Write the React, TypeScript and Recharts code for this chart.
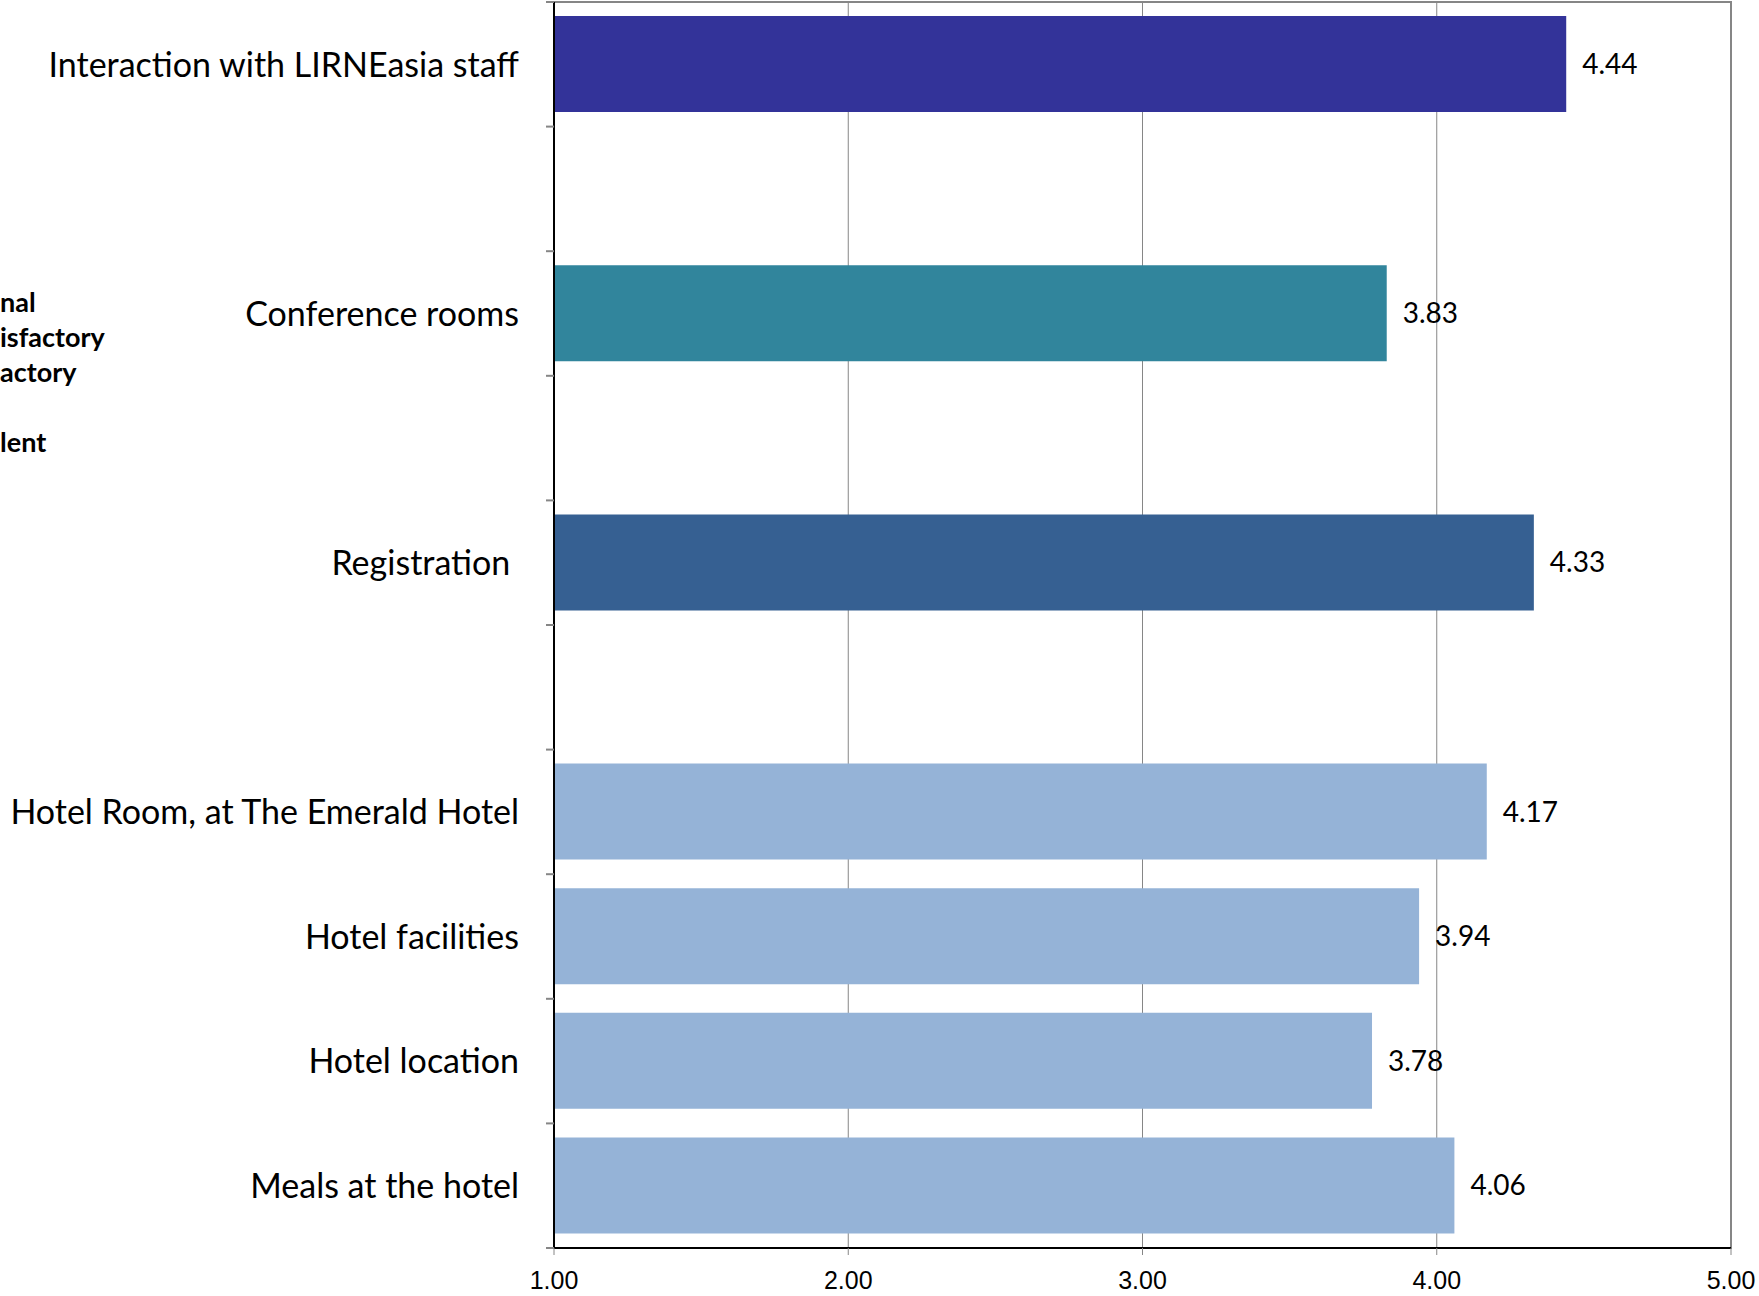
import React from "react";
import {
  BarChart,
  Bar,
  XAxis,
  YAxis,
  CartesianGrid,
  Cell,
  LabelList,
  ReferenceArea,
} from "recharts";

const categories = [
  "Interaction with LIRNEasia staff",
  "",
  "Conference rooms",
  "",
  "Registration ",
  "",
  "Hotel Room, at The Emerald Hotel",
  "Hotel facilities",
  "Hotel location",
  "Meals at the hotel",
];
const scores: (number | null)[] = [4.44, null, 3.83, null, 4.33, null, 4.17, 3.94, 3.78, 4.06];
const barColors = ["#333399", "#ffffff", "#31859C", "#ffffff", "#366092", "#ffffff", "#95B3D7", "#95B3D7", "#95B3D7", "#95B3D7"];
const xTicks = [1, 2, 3, 4, 5];
const legendFragments = ["nal", "isfactory", "actory", "", "lent"];

const rows = categories.map((name, i) => ({ idx: i, name, score: scores[i] }));

const CHART_W = 1759;
const CHART_H = 1296;
const MARGIN = { top: 2, right: 28, bottom: 0, left: 0 };
const X_AXIS_H = 48;
const Y_AXIS_W = 554;
const TICK_SIZE = 8;
const TICK_MARGIN = 27;
const BAND = (CHART_H - MARGIN.top - MARGIN.bottom - X_AXIS_H) / categories.length;

const CatTick = (props: any) => {
  const { x, y, payload, index } = props;
  const label = categories[payload.value] ?? "";
  const axisX = x + TICK_SIZE + TICK_MARGIN;
  const isLast = index === categories.length - 1;
  return (
    <g>
      <line x1={axisX - TICK_SIZE} x2={axisX} y1={y - BAND / 2} y2={y - BAND / 2} stroke="#868686" strokeWidth={2} />
      {isLast && (
        <line x1={axisX - TICK_SIZE} x2={axisX} y1={y + BAND / 2} y2={y + BAND / 2} stroke="#868686" strokeWidth={2} />
      )}
      <text
        x={x}
        y={y}
        dy="0.36em"
        textAnchor="end"
        fontFamily="Lato"
        fontSize={34}
        fill="#000"
        style={{ whiteSpace: "pre" }}
      >
        {label}
      </text>
    </g>
  );
};

export default function App() {
  return (
    <div style={{ position: "absolute", left: 0, top: 0, width: CHART_W, height: CHART_H, background: "#fff" }}>
      <div style={{ position: "absolute", left: 0, top: 0 }}>
        {legendFragments.map((t, i) => (
          <div
            key={i}
            style={{
              position: "absolute",
              left: 0,
              top: 286 + i * 35,
              fontFamily: "Lato",
              fontWeight: 700,
              fontSize: 27,
              lineHeight: "32px",
              whiteSpace: "pre",
              color: "#000",
            }}
          >
            {t}
          </div>
        ))}
      </div>
      <BarChart
        width={CHART_W}
        height={CHART_H}
        data={rows}
        layout="vertical"
        margin={MARGIN}
        barSize={96}
      >
        <CartesianGrid horizontal={false} vertical stroke="#868686" strokeWidth={1} />
        <ReferenceArea x1={1} x2={5} fill="none" stroke="#868686" strokeWidth={2} ifOverflow="visible" />
        <XAxis
          type="number"
          domain={[1, 5]}
          ticks={xTicks}
          allowDataOverflow
          height={X_AXIS_H}
          tickFormatter={(v: number) => v.toFixed(2)}
          axisLine={{ stroke: "#000", strokeWidth: 2 }}
          tickLine={{ stroke: "#868686", strokeWidth: 1 }}
          tickSize={7}
          tickMargin={16}
          tick={{ fontFamily: "Liberation Sans", fontSize: 25, fill: "#000" }}
          interval={0}
        />
        <YAxis
          type="category"
          dataKey="idx"
          width={Y_AXIS_W}
          tickLine={false}
          tickSize={TICK_SIZE}
          tickMargin={TICK_MARGIN}
          axisLine={{ stroke: "#000", strokeWidth: 2 }}
          tick={<CatTick />}
          interval={0}
        />
        <Bar dataKey="score" isAnimationActive={false}>
          {rows.map((r, i) => (
            <Cell key={i} fill={barColors[i]} />
          ))}
          <LabelList
            dataKey="score"
            position="right"
            offset={16}
            formatter={(v: any) => (v == null ? "" : Number(v).toFixed(2))}
            style={{ fontFamily: "Lato", fontSize: 28, fill: "#000" }}
          />
        </Bar>
      </BarChart>
    </div>
  );
}
